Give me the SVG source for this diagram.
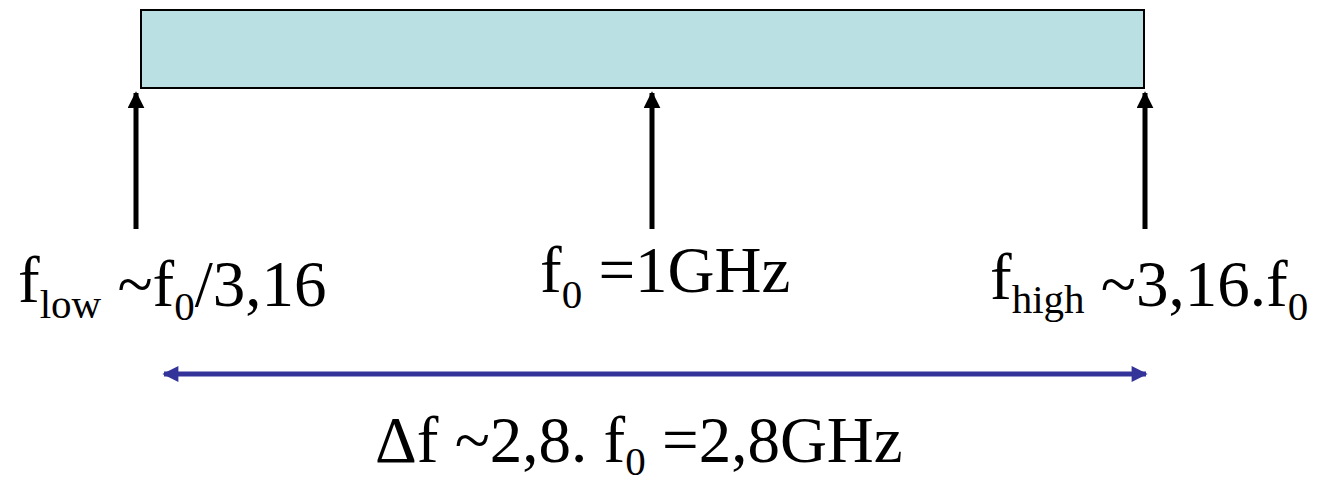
<svg xmlns="http://www.w3.org/2000/svg" width="1318" height="481" viewBox="0 0 1318 481">
<defs>
<style>
.t{font-family:"Liberation Serif","Times New Roman",serif;font-size:65px;fill:#000}
.s{font-size:41px}
.up{fill:none;stroke:#000;stroke-width:5}
</style>
<marker id="ah" viewBox="0 0 10 10" refX="9" refY="5" markerWidth="3.4" markerHeight="3.4" orient="auto" markerUnits="strokeWidth">
<path d="M0,0 L10,5 L0,10 z" fill="#000"/>
</marker>
<marker id="bh" viewBox="0 0 10 10" refX="9" refY="5" markerWidth="3.4" markerHeight="3.2" orient="auto-start-reverse" markerUnits="strokeWidth">
<path d="M0,0 L10,5 L0,10 z" fill="#333399"/>
</marker>
</defs>
<rect width="1318" height="481" fill="#fff"/>
<g id="band">
<rect x="141" y="10" width="1003" height="78" fill="#BBE0E3" stroke="#000" stroke-width="2"/>
</g>
<g id="connectors">
<line class="up" x1="136" y1="229" x2="136" y2="93" marker-end="url(#ah)"/>
<line class="up" x1="652" y1="229" x2="652" y2="93" marker-end="url(#ah)"/>
<line class="up" x1="1145" y1="229" x2="1145" y2="93" marker-end="url(#ah)"/>
<line x1="164" y1="374" x2="1146" y2="374" stroke="#333399" stroke-width="5" marker-start="url(#bh)" marker-end="url(#bh)"/>
</g>
<g id="label-low">
<text class="t" x="18" y="302">f<tspan class="s" dy="16">low</tspan><tspan dy="-12"> ~f</tspan><tspan class="s" dy="14">0</tspan><tspan dy="-14">/3,16</tspan></text>
</g>
<g id="label-center">
<text class="t" x="540" y="292">f<tspan class="s" dy="16">0</tspan><tspan dy="-16"> =1GHz</tspan></text>
</g>
<g id="label-high">
<text class="t" x="990" y="299">f<tspan class="s" dy="14">high</tspan><tspan dy="-7"> ~3,16.f</tspan><tspan class="s" dy="14">0</tspan></text>
</g>
<g id="label-delta">
<text class="t" x="375" y="462">Δf ~2,8. f<tspan class="s" dy="13">0</tspan><tspan dy="-13"> =2,8GHz</tspan></text>
</g>
</svg>
